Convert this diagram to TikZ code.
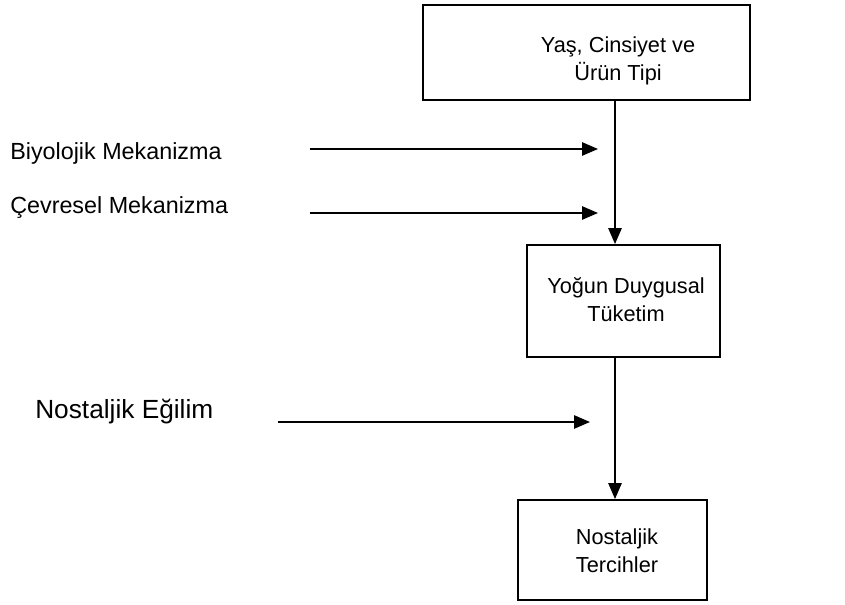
\documentclass[tikz,border=0pt]{standalone}
\usepackage{fontspec}
\setmainfont{Liberation Sans}
\usetikzlibrary{arrows.meta}
\begin{document}
\begin{tikzpicture}[x=0.75pt,y=-0.75pt,
  box/.style={draw, line width=1.4pt, inner sep=0pt},
  conn/.style={line width=1.3pt, -{Triangle[length=12pt,width=10pt]}},
  lbl/.style={font=\fontsize{17.5}{21}\selectfont, anchor=west, inner sep=0pt},
  btxt/.style={font=\fontsize{16.3}{21}\selectfont, align=center, inner sep=0pt}]
\useasboundingbox (0,0) rectangle (845,605);
% boxes
\node[box, minimum width=245.25pt, minimum height=71.25pt] (top) at (586.5,52.5) {};
\node[box, minimum width=144.75pt, minimum height=84pt] (mid) at (623.5,301) {};
\node[box, minimum width=141.75pt, minimum height=75pt] (bot) at (612.5,550) {};
% box texts
\node[btxt] (t1) at (618,61) {Yaş, Cinsiyet ve\\Ürün Tipi};
\node[btxt] (t2) at (626,300) {Yoğun Duygusal\\Tüketim};
\node[btxt] (t3) at (617,551) {Nostaljik\\Tercihler};
% vertical flow
\coordinate (vx) at (615,0);
\draw[conn] (top.south -| vx) -- (mid.north -| vx);
\draw[conn] (mid.south -| vx) -- (bot.north -| vx);
% side inputs
\node[lbl] (l1) at (10,153) {Biyolojik Mekanizma};
\node[lbl] (l2) at (10,208) {Çevresel Mekanizma};
\node[lbl, font=\fontsize{19.7}{23}\selectfont] (l3) at (35,412) {Nostaljik Eğilim};
\coordinate (a1) at (310,149);
\coordinate (b1) at (598,149);
\coordinate (a2) at (310,213);
\coordinate (b2) at (598,213);
\coordinate (a3) at (278,422);
\coordinate (b3) at (590,422);
\draw[conn] (a1) -- (b1);
\draw[conn] (a2) -- (b2);
\draw[conn] (a3) -- (b3);
\end{tikzpicture}
\end{document}
